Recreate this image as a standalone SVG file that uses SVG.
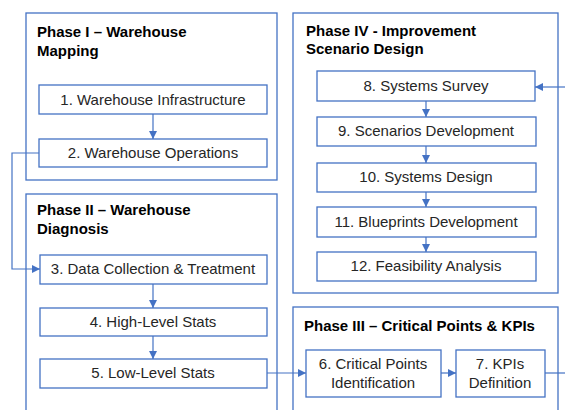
<svg xmlns="http://www.w3.org/2000/svg" width="565" height="410" viewBox="0 0 565 410">
  <style>
    .phase { fill: #ffffff; stroke: #4472c4; stroke-width: 1.3; }
    .step { fill: #ffffff; stroke: #4472c4; stroke-width: 1.3; }
    .title { font-family: "Liberation Sans", Arial, sans-serif; font-size: 15px; font-weight: bold; fill: #000000; }
    .label { font-family: "Liberation Sans", Arial, sans-serif; font-size: 15px; fill: #262626; text-anchor: middle; }
    .link { fill: none; stroke: #4472c4; stroke-width: 1.2; }
  </style>
  <defs>
    <marker id="arrow" viewBox="0 0 10 10" refX="10" refY="5" markerWidth="8" markerHeight="8" markerUnits="userSpaceOnUse" orient="auto">
      <path d="M0,0 L10,5 L0,10 z" fill="#4472c4"/>
    </marker>
  </defs>
  <rect width="565" height="410" fill="#ffffff"/>

  <!-- Phase I -->
  <g id="phase1">
    <rect class="phase" x="26" y="13" width="251" height="167"/>
    <text class="title" x="37" y="37">Phase I – Warehouse</text>
    <text class="title" x="37" y="56">Mapping</text>
  </g>
  <g id="step1">
    <rect class="step" x="39" y="85" width="228" height="29"/>
    <text class="label" x="153" y="105">1. Warehouse Infrastructure</text>
  </g>
  <g id="step2">
    <rect class="step" x="39" y="139" width="228" height="28"/>
    <text class="label" x="153" y="158">2. Warehouse Operations</text>
  </g>

  <!-- Phase II -->
  <g id="phase2">
    <rect class="phase" x="26" y="194" width="251" height="230"/>
    <text class="title" x="37" y="215">Phase II – Warehouse</text>
    <text class="title" x="37" y="234">Diagnosis</text>
  </g>
  <g id="step3">
    <rect class="step" x="40" y="255" width="227" height="29"/>
    <text class="label" x="153" y="274">3. Data Collection &amp; Treatment</text>
  </g>
  <g id="step4">
    <rect class="step" x="40" y="308" width="227" height="28"/>
    <text class="label" x="153" y="327">4. High-Level Stats</text>
  </g>
  <g id="step5">
    <rect class="step" x="40" y="359" width="227" height="29"/>
    <text class="label" x="153" y="378">5. Low-Level Stats</text>
  </g>

  <!-- Phase IV -->
  <g id="phase4">
    <rect class="phase" x="293" y="13" width="265" height="280"/>
    <text class="title" x="306" y="36">Phase IV - Improvement</text>
    <text class="title" x="306" y="54">Scenario Design</text>
  </g>
  <g id="step8">
    <rect class="step" x="317" y="71" width="218" height="30"/>
    <text class="label" x="426" y="91">8. Systems Survey</text>
  </g>
  <g id="step9">
    <rect class="step" x="317" y="117" width="219" height="29"/>
    <text class="label" x="426" y="136">9. Scenarios Development</text>
  </g>
  <g id="step10">
    <rect class="step" x="317" y="163" width="219" height="29"/>
    <text class="label" x="426" y="182">10. Systems Design</text>
  </g>
  <g id="step11">
    <rect class="step" x="317" y="207" width="219" height="30"/>
    <text class="label" x="426" y="227">11. Blueprints Development</text>
  </g>
  <g id="step12">
    <rect class="step" x="317" y="252" width="219" height="29"/>
    <text class="label" x="426" y="271">12. Feasibility Analysis</text>
  </g>

  <!-- Phase III -->
  <g id="phase3">
    <rect class="phase" x="293" y="307" width="265" height="120"/>
    <text class="title" x="304" y="331">Phase III – Critical Points &amp; KPIs</text>
  </g>
  <g id="step6">
    <rect class="step" x="306" y="350" width="135" height="47"/>
    <text class="label" x="373" y="369">6. Critical Points</text>
    <text class="label" x="373" y="388">Identification</text>
  </g>
  <g id="step7">
    <rect class="step" x="456" y="350" width="89" height="47"/>
    <text class="label" x="500" y="369">7. KPIs</text>
    <text class="label" x="500" y="388">Definition</text>
  </g>

  <!-- Connectors -->
  <g id="connectors">
    <line class="link" x1="153" y1="114" x2="153" y2="139" marker-end="url(#arrow)"/>
    <polyline class="link" points="39,153 12,153 12,269 40,269" marker-end="url(#arrow)"/>
    <line class="link" x1="153" y1="284" x2="153" y2="308" marker-end="url(#arrow)"/>
    <line class="link" x1="153" y1="336" x2="153" y2="359" marker-end="url(#arrow)"/>
    <line class="link" x1="267" y1="373" x2="306" y2="373" marker-end="url(#arrow)"/>
    <line class="link" x1="441" y1="373" x2="456" y2="373" marker-end="url(#arrow)"/>
    <line class="link" x1="545" y1="373" x2="565" y2="373"/>
    <line class="link" x1="565" y1="87" x2="535" y2="87" marker-end="url(#arrow)"/>
    <line class="link" x1="426" y1="101" x2="426" y2="117" marker-end="url(#arrow)"/>
    <line class="link" x1="426" y1="146" x2="426" y2="163" marker-end="url(#arrow)"/>
    <line class="link" x1="426" y1="192" x2="426" y2="207" marker-end="url(#arrow)"/>
    <line class="link" x1="426" y1="237" x2="426" y2="252" marker-end="url(#arrow)"/>
  </g>
</svg>
